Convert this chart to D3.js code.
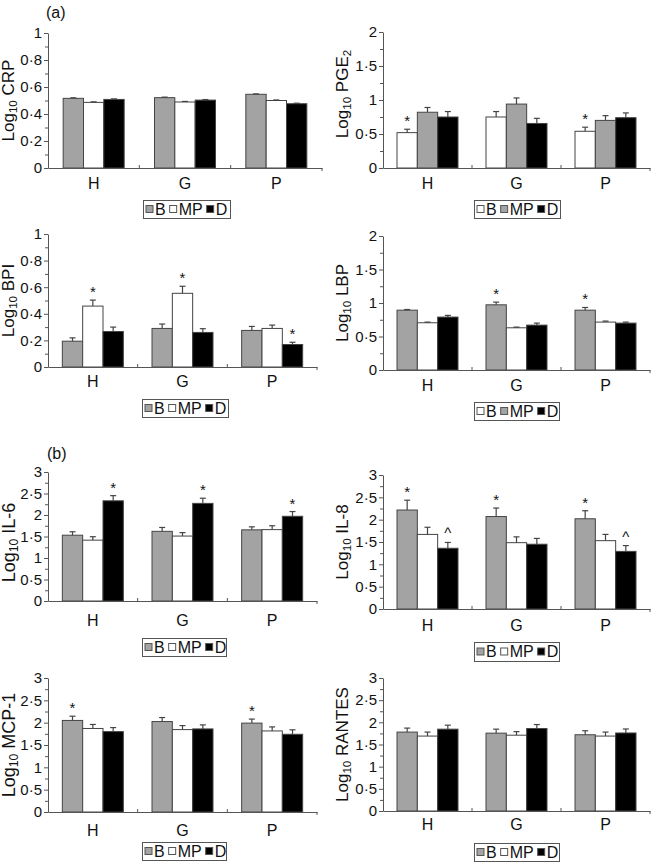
<!DOCTYPE html>
<html><head><meta charset="utf-8">
<script src="https://cdn.jsdelivr.net/npm/d3@7"></script>
<style>
html,body{margin:0;padding:0;background:#fff;}
svg text{font-family:"Liberation Sans",Arial,Helvetica,sans-serif;fill:#111;}
</style></head>
<body>
<svg id="c" width="651" height="862"></svg>
<script>
// ---------- DATA ----------
const categories = ["H", "G", "P"];
const seriesNames = ["B", "MP", "D"];

const ticksA = [0, 0.2, 0.4, 0.6, 0.8, 1];
const minorA = [0.1, 0.3, 0.5, 0.7, 0.9];
const ticksB = [0, 0.5, 1, 1.5, 2];
const minorB = [0.25, 0.75, 1.25, 1.75];
const ticksC = [0, 0.5, 1, 1.5, 2, 2.5, 3];
const minorC = [0.25, 0.75, 1.25, 1.75, 2.25, 2.75];

// means per series (rows B, MP, D), columns H, G, P
const crpMean = [[0.516, 0.521, 0.546], [0.486, 0.489, 0.500], [0.508, 0.503, 0.476]];
const crpErr  = [[0.004, 0.004, 0.003], [0.004, 0.004, 0.004], [0.004, 0.004, 0.004]];

const pgeMean = [[0.52, 0.75, 0.54], [0.82, 0.94, 0.70], [0.75, 0.655, 0.74]];
const pgeErr  = [[0.05, 0.08, 0.06], [0.07, 0.09, 0.07], [0.08, 0.075, 0.07]];

const bpiMean = [[0.194, 0.29, 0.275], [0.458, 0.554, 0.29], [0.267, 0.26, 0.169]];
const bpiErr  = [[0.025, 0.033, 0.03], [0.045, 0.053, 0.025], [0.033, 0.028, 0.017]];

const lbpMean = [[0.893, 0.973, 0.893], [0.705, 0.63, 0.715], [0.79, 0.67, 0.70]];
const lbpErr  = [[0.01, 0.04, 0.04], [0.01, 0.01, 0.015], [0.025, 0.03, 0.015]];

const il6Mean = [[1.53, 1.62, 1.655], [1.415, 1.51, 1.66], [2.33, 2.27, 1.97]];
const il6Err  = [[0.08, 0.09, 0.07], [0.08, 0.08, 0.09], [0.12, 0.12, 0.11]];

const il8Mean = [[2.216, 2.07, 2.02], [1.67, 1.485, 1.53], [1.36, 1.45, 1.29]];
const il8Err  = [[0.22, 0.19, 0.18], [0.16, 0.13, 0.14], [0.13, 0.13, 0.13]];

const mcpMean = [[2.05, 2.025, 1.99], [1.87, 1.845, 1.815], [1.80, 1.86, 1.74]];
const mcpErr  = [[0.095, 0.09, 0.09], [0.09, 0.09, 0.09], [0.09, 0.09, 0.10]];

const rantesMean = [[1.78, 1.756, 1.72], [1.69, 1.71, 1.69], [1.846, 1.86, 1.76]];
const rantesErr  = [[0.09, 0.09, 0.09], [0.09, 0.08, 0.09], [0.09, 0.09, 0.09]];

// significance marks: [seriesIndex, categoryIndex, symbol]
const crpMarks = [];
const pgeMarks = [[0, 0, "*"], [0, 2, "*"]];
const bpiMarks = [[1, 0, "*"], [1, 1, "*"], [2, 2, "*"]];
const lbpMarks = [[0, 1, "*"], [0, 2, "*"]];
const il6Marks = [[2, 0, "*"], [2, 1, "*"], [2, 2, "*"]];
const il8Marks = [[0, 0, "*"], [0, 1, "*"], [0, 2, "*"], [2, 0, "^"], [2, 2, "^"]];
const mcpMarks = [[0, 0, "*"], [0, 2, "*"]];
const rantesMarks = [];

// ---------- STYLE ----------
const GRAY = "#a3a3a3", WHITE = "#ffffff", BLACK = "#000000";
const AX = "#555";
const svg = d3.select("#c");
const fmt = d => String(d).replace(".", "\u00B7");

function panel(p) {
  const g = svg.append("g");
  const y = d3.scaleLinear().domain([0, p.max]).range([p.y0, p.yTop]);
  const x = d3.scaleBand().domain(categories).range([p.x0, p.x1]);
  const inner = d3.scaleBand().domain(seriesNames)
    .range([(x.bandwidth() - 61) / 2, (x.bandwidth() + 61) / 2]);

  // bars
  seriesNames.forEach((s, si) => {
    categories.forEach((c, ci) => {
      const v = p.mean[si][ci], e = p.err[si][ci];
      const bx = x(c) + inner(s), bw = inner.bandwidth();
      g.append("rect").attr("x", bx).attr("y", y(v))
        .attr("width", bw).attr("height", y(0) - y(v))
        .attr("fill", p.barColors[si]).attr("stroke", "#444").attr("stroke-width", 1);
      const cx = bx + bw / 2;
      g.append("line").attr("x1", cx).attr("x2", cx).attr("y1", y(v)).attr("y2", y(v + e))
        .attr("stroke", "#444").attr("stroke-width", 1.2);
      g.append("line").attr("x1", cx - 3).attr("x2", cx + 3).attr("y1", y(v + e)).attr("y2", y(v + e))
        .attr("stroke", "#444").attr("stroke-width", 1.2);
    });
  });
  // marks
  p.marks.forEach(([si, ci, ch]) => {
    const v = p.mean[si][ci] + p.err[si][ci];
    const cx = x(categories[ci]) + inner(seriesNames[si]) + inner.bandwidth() / 2;
    g.append("text").attr("x", cx).attr("y", y(v) - (ch === "^" ? 4 : 3))
      .attr("text-anchor", "middle").style("font-size", "15px").text(ch);
  });

  // y axis
  const ya = g.append("g").attr("transform", `translate(${p.x0},0)`)
    .call(d3.axisLeft(y).tickValues(p.ticks).tickFormat(fmt).tickSize(4).tickSizeOuter(0).tickPadding(2));
  ya.selectAll("text").style("font-size", "15px");
  const ym = g.append("g").attr("transform", `translate(${p.x0},0)`)
    .call(d3.axisLeft(y).tickValues(p.minor).tickFormat("").tickSize(3).tickSizeOuter(0));
  ym.select(".domain").remove();
  [ya, ym].forEach(a => { a.selectAll("line,path").attr("stroke", AX); });

  // x axis
  const xa = g.append("g").attr("transform", `translate(0,${p.y0})`)
    .call(d3.axisBottom(x).tickSize(0).tickSizeOuter(0).tickPadding(p.catPad));
  xa.selectAll("text").style("font-size", "16px");
  xa.select(".domain").attr("stroke", AX);
  // group separators
  const bounds = categories.slice(1).map(c => x(c)).concat([p.x1]);
  g.selectAll(null).data(bounds).enter().append("line")
    .attr("x1", d => d).attr("x2", d => d)
    .attr("y1", (d, i) => i < 2 ? p.y0 - 3 : p.y0).attr("y2", (d, i) => i < 2 ? p.y0 : p.y0 + 3)
    .attr("stroke", AX);

  // y label (baseline at labelX, rotated)
  const lx = p.labelX, ly = (p.y0 + p.yTop) / 2 + (p.labelDy || 0);
  const t = g.append("text").attr("transform", `translate(${lx},${ly}) rotate(-90)`)
    .attr("text-anchor", "middle")
    .style("font-size", p.labelSize + "px");
  t.append("tspan").text("Log");
  t.append("tspan").attr("dy", 3).style("font-size", (p.labelSize * 0.68) + "px").text("10");
  t.append("tspan").attr("dy", -3).text("\u00A0" + p.label);
  if (p.labelSub) {
    t.append("tspan").attr("dy", 3).style("font-size", (p.labelSize * 0.68) + "px").text(p.labelSub);
  }

  // legend
  const [lx0, ly0, lw, lh] = p.legend;
  const lg = g.append("g");
  lg.append("rect").attr("x", lx0 + 0.5).attr("y", ly0 + 0.5).attr("width", lw).attr("height", lh)
    .attr("fill", "#fff").attr("stroke", "#555");
  let cur = lx0 + 3;
  seriesNames.forEach((s, i) => {
    lg.append("rect").attr("x", cur).attr("y", ly0 + lh / 2 - 3.5).attr("width", 7).attr("height", 7)
      .attr("fill", p.legendColors[i]).attr("stroke", "#555");
    const tx = lg.append("text").attr("x", cur + 9).attr("y", ly0 + lh / 2 + 5.5)
      .style("font-size", "16px").text(s);
    cur += 9 + tx.node().getComputedTextLength() + 4;
  });
}

const L0 = 48, L1 = 317, R0 = 383, R1 = 650;
const gwb = [GRAY, WHITE, BLACK], wgb = [WHITE, GRAY, BLACK];

panel({x0: L0, x1: 322, yTop: 33, y0: 168, max: 1, ticks: ticksA, minor: minorA, catPad: 10,
  mean: crpMean, err: crpErr, marks: crpMarks, barColors: gwb, legendColors: gwb,
  label: "CRP", labelX: 14, labelSize: 17, legend: [143, 200, 87, 18]});
panel({x0: R0, x1: R1, yTop: 32, y0: 168, max: 2, ticks: ticksB, minor: minorB, catPad: 10,
  mean: pgeMean, err: pgeErr, marks: pgeMarks, barColors: wgb, legendColors: wgb,
  label: "PGE", labelSub: "2", labelX: 348, labelSize: 17, labelDy: -6, legend: [474, 200, 86, 18]});
panel({x0: L0, x1: L1, yTop: 234, y0: 367, max: 1, ticks: ticksA, minor: minorA, catPad: 9,
  mean: bpiMean, err: bpiErr, marks: bpiMarks, barColors: gwb, legendColors: gwb,
  label: "BPI", labelX: 14, labelSize: 17, legend: [142, 399, 86, 18]});
panel({x0: R0, x1: R1, yTop: 236, y0: 370, max: 2, ticks: ticksB, minor: minorB, catPad: 10,
  mean: lbpMean, err: lbpErr, marks: lbpMarks, barColors: gwb, legendColors: wgb,
  label: "LBP", labelX: 348, labelSize: 17, legend: [474, 402, 85, 18]});
panel({x0: L0, x1: L1, yTop: 472, y0: 601, max: 3, ticks: ticksC, minor: minorC, catPad: 14,
  mean: il6Mean, err: il6Err, marks: il6Marks, barColors: gwb, legendColors: gwb,
  label: "IL-6", labelX: 15, labelSize: 18, labelDy: 6, legend: [142, 638, 84, 18]});
panel({x0: R0, x1: R1, yTop: 475, y0: 609, max: 3, ticks: ticksC, minor: minorC, catPad: 11,
  mean: il8Mean, err: il8Err, marks: il8Marks, barColors: gwb, legendColors: gwb,
  label: "IL-8", labelX: 348, labelSize: 17, legend: [474, 642, 85, 19]});
panel({x0: L0, x1: L1, yTop: 678, y0: 812, max: 3, ticks: ticksC, minor: minorC, catPad: 13,
  mean: mcpMean, err: mcpErr, marks: mcpMarks, barColors: gwb, legendColors: gwb,
  label: "MCP-1", labelX: 15, labelSize: 18, legend: [142, 842, 84, 18]});
panel({x0: R0, x1: R1, yTop: 678, y0: 811, max: 3, ticks: ticksC, minor: minorC, catPad: 8,
  mean: rantesMean, err: rantesErr, marks: rantesMarks, barColors: gwb, legendColors: gwb,
  label: "RANTES", labelX: 348, labelSize: 17, legend: [474, 843, 85, 18]});

svg.append("text").attr("x", 46).attr("y", 18).style("font-size", "16px").text("(a)");
svg.append("text").attr("x", 47).attr("y", 459).style("font-size", "16px").text("(b)");
</script>
</body></html>
